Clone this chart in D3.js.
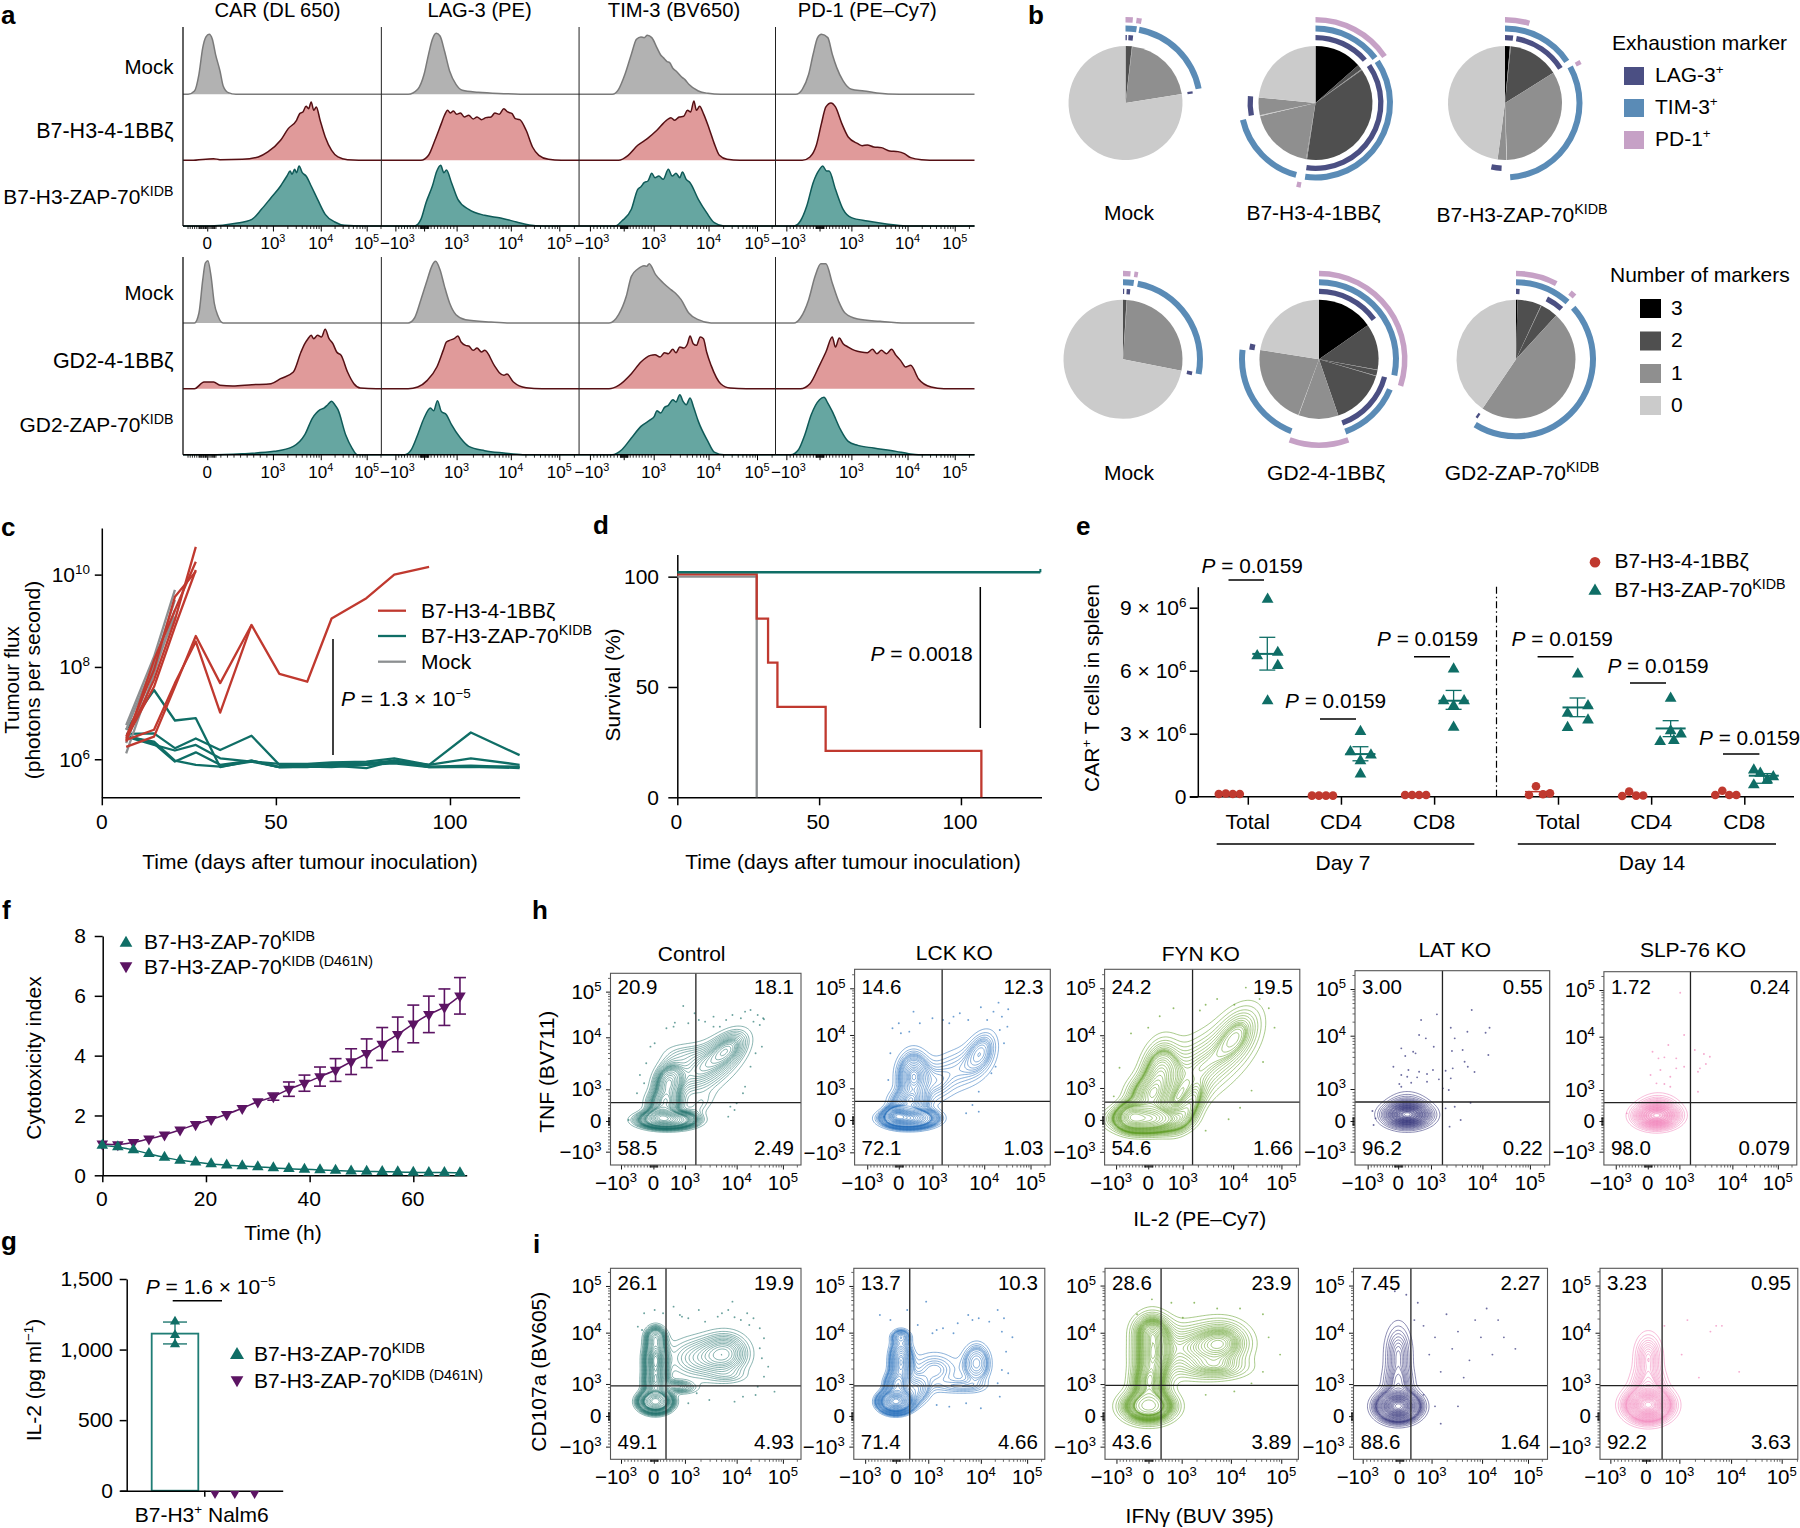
<!DOCTYPE html>
<html><head><meta charset="utf-8">
<script src="https://cdn.jsdelivr.net/npm/d3@7"></script>
<style>html,body{margin:0;padding:0;background:#fff}svg{display:block}text{font-family:"Liberation Sans",Arial,sans-serif;fill:#000}</style>
</head><body><svg id="c" width="1800" height="1528"></svg>
<script>
// ---------- DATA: panel a (channel, count) ----------
const markerTitles=["CAR (DL 650)","LAG-3 (PE)","TIM-3 (BV650)","PD-1 (PE–Cy7)"];
const rowLabelsB7=["Mock","B7-H3-4-1BBζ","B7-H3-ZAP-70^{KIDB}"];
const rowLabelsGD2=["Mock","GD2-4-1BBζ","GD2-ZAP-70^{KIDB}"];
const histMockB7=[
[[295,0],[305,10],[312,60],[318,140],[323,172],[328,180],[333,165],[338,120],[345,70],[350,25],[358,5],[370,0]],
[[640,0],[655,15],[665,60],[672,120],[678,165],[684,183],[690,175],[697,130],[705,70],[715,30],[725,12],[750,6],[790,2],[830,0]],
[[960,0],[970,15],[980,60],[990,120],[998,165],[1005,172],[1010,170],[1015,177],[1022,170],[1030,140],[1036,118],[1040,110],[1046,98],[1050,95],[1055,78],[1060,70],[1070,50],[1074,44],[1080,30],[1095,10],[1110,3],[1130,0]],
[[1248,0],[1258,15],[1268,60],[1275,120],[1282,170],[1288,180],[1298,170],[1305,120],[1312,80],[1322,40],[1335,15],[1355,10],[1375,4],[1410,0]]];
const hist41BBB7=[
[[300,0],[335,5],[345,2],[380,3],[405,10],[420,25],[440,60],[452,95],[465,120],[470,140],[475,145],[480,162],[484,155],[488,175],[492,150],[496,160],[502,120],[510,70],[520,30],[530,10],[545,2],[580,0]],
[[660,0],[672,15],[682,60],[692,110],[697,135],[702,150],[706,142],[711,148],[716,138],[722,142],[728,130],[735,135],[742,124],[748,130],[755,122],[762,128],[770,130],[776,142],[783,138],[790,155],[796,145],[803,140],[808,125],[815,122],[825,90],[835,40],[845,15],[860,3],[880,0]],
[[970,0],[985,15],[1000,45],[1015,65],[1030,90],[1045,120],[1052,128],[1058,120],[1065,130],[1072,132],[1078,150],[1083,145],[1088,178],[1092,150],[1097,162],[1103,140],[1112,95],[1120,50],[1128,15],[1140,3],[1160,0]],
[[1258,0],[1270,10],[1280,45],[1288,110],[1295,160],[1303,172],[1310,160],[1320,110],[1330,70],[1345,50],[1352,44],[1360,46],[1370,40],[1382,38],[1395,28],[1408,26],[1418,20],[1428,8],[1445,2],[1470,0]]];
const histZapB7=[
[[330,0],[370,8],[395,20],[410,50],[425,85],[440,120],[445,135],[450,150],[455,165],[458,155],[462,170],[465,160],[469,180],[474,160],[480,150],[488,120],[498,80],[510,35],[525,12],[540,2],[570,0]],
[[650,0],[660,20],[668,70],[678,120],[685,165],[691,182],[696,160],[700,168],[708,130],[718,80],[735,50],[760,32],[785,24],[810,12],[830,3],[850,0]],
[[965,0],[975,15],[990,50],[1000,110],[1005,118],[1010,130],[1016,135],[1022,158],[1027,145],[1033,150],[1040,140],[1048,170],[1054,150],[1060,158],[1066,145],[1070,162],[1076,140],[1082,130],[1095,80],[1108,40],[1120,10],[1135,0]],
[[1245,0],[1255,15],[1265,60],[1275,130],[1285,170],[1290,180],[1296,165],[1300,165],[1310,110],[1322,50],[1335,25],[1360,15],[1390,6],[1420,0]]];
const histMockGD2=[
[[305,0],[312,30],[318,130],[322,180],[326,187],[331,140],[336,60],[342,20],[350,0]],
[[640,0],[650,15],[660,70],[670,130],[677,170],[683,185],[690,160],[697,110],[705,60],[715,25],[730,10],[770,3],[800,0]],
[[955,0],[970,25],[982,80],[990,140],[1000,162],[1010,172],[1014,170],[1018,178],[1028,145],[1040,120],[1052,100],[1060,88],[1068,70],[1080,30],[1095,10],[1115,0]],
[[1245,0],[1255,15],[1268,70],[1278,140],[1287,178],[1295,178],[1305,120],[1315,65],[1325,30],[1345,12],[1380,5],[1420,0]]];
const hist41BBGD2=[
[[305,0],[320,20],[335,20],[345,10],[365,8],[395,12],[425,15],[440,30],[460,50],[472,110],[478,135],[483,150],[488,160],[492,150],[498,160],[504,155],[510,178],[516,150],[522,135],[528,110],[535,100],[545,50],[555,15],[565,2],[590,0]],
[[640,0],[655,5],[670,25],[685,65],[695,115],[700,140],[705,145],[712,150],[718,158],[723,140],[730,130],[735,128],[742,115],[748,122],[755,110],[760,115],[775,70],[783,48],[790,40],[795,44],[805,20],[825,3],[850,0]],
[[955,0],[970,10],[990,45],[1005,80],[1020,100],[1027,102],[1035,95],[1042,108],[1048,105],[1055,118],[1060,108],[1066,125],[1072,122],[1078,135],[1082,158],[1087,135],[1092,130],[1098,155],[1103,150],[1108,110],[1115,70],[1130,15],[1145,2],[1170,0]],
[[1255,0],[1270,15],[1285,70],[1295,110],[1305,155],[1310,125],[1316,152],[1322,135],[1330,125],[1340,115],[1350,110],[1360,108],[1368,118],[1375,105],[1382,115],[1390,105],[1398,118],[1405,100],[1412,85],[1420,65],[1428,70],[1440,30],[1460,5],[1480,0]]];
const histZapGD2=[
[[330,0],[380,3],[430,10],[460,25],[478,60],[490,110],[496,125],[502,135],[508,140],[514,150],[520,160],[525,150],[530,135],[542,60],[552,20],[560,0]],
[[635,0],[645,15],[655,60],[665,110],[675,140],[680,132],[686,162],[692,130],[700,120],[708,90],[722,50],[735,25],[760,12],[790,5],[820,0]],
[[960,0],[975,15],[990,50],[1005,85],[1020,105],[1026,115],[1030,132],[1036,125],[1042,142],[1048,148],[1055,165],[1060,158],[1066,180],[1071,160],[1076,150],[1082,170],[1088,140],[1095,100],[1110,40],[1120,8],[1135,0]],
[[1240,0],[1252,15],[1262,60],[1272,120],[1285,165],[1292,172],[1298,155],[1305,130],[1318,75],[1330,40],[1345,28],[1370,20],[1405,10],[1425,3],[1440,0]]];
const histPanelEdges=[287,598,908,1216,1528];
const histTicks=[[null,325,428,503,575],[620,665,716,801,877],[925,978,1025,1111,1187],[1233,1285,1335,1423,1497]];
const histTickLabels=[[null,"0","10^{3}","10^{4}","10^{5}"],["−10^{3}",null,"10^{3}","10^{4}","10^{5}"],["−10^{3}",null,"10^{3}","10^{4}","10^{5}"],["−10^{3}",null,"10^{3}","10^{4}","10^{5}"]];

// ---------- DATA: panel b ----------
const pieNames=["Mock","B7-H3-4-1BBζ","B7-H3-ZAP-70^{KIDB}","Mock","GD2-4-1BBζ","GD2-ZAP-70^{KIDB}"];
const pieDegrees=[[6.5,.5,74,279],[48.6,5,1,134,1,67,1,18,84.4],[5,1,52,120,.7,8.8,172.5],[3.5,.5,97,259],[55,45,.5,5.5,.5,54.5,39,.4,78.6,81],[1.5,23.5,.5,17,172,146]];
const pieLevels=[[2,1,1,0],[3,2,1,2,1,1,0,1,0],[3,1,2,1,0,1,0],[2,1,1,0],[3,2,1,2,1,2,1,0,1,0],[3,2,1,2,1,0]];
const lagArcs=[[[0,1.2],[2.5,6.5],[80,82]],[[0,49],[55,188],[259,276]],[[0,7],[10,58],[183,192]],[[0,1],[3,6],[100,103]],[[0,54],[105,160],[278,283]],[[0,3],[27,42],[213,215]]];
const timArcs=[[[0,8.5],[10.5,79]],[[0,53],[56,188],[195,257]],[[0,56],[61,176]],[[0,8],[11,101]],[[0,102],[113,160],[201,277]],[[0,42],[48,212]]];
const pdArcs=[[[0,5],[7.5,11]],[[0,56],[190,193]],[[0,17],[60,63]],[[0,5],[7.5,10]],[[0,108],[160,200]],[[0,28],[39,43]]];
const markerLegend=["LAG-3^{+}","TIM-3^{+}","PD-1^{+}"];
const markerNumbers=[3,2,1,0];

// ---------- DATA: panel c (log10 flux) ----------
const cTimes=[7,15,21,27,34,43,51,59,66,76,84,94,106,120];
const cRed=[[6.27,6.49,7.57,8.67,7.65,8.91,7.85,7.68,9.05,9.49,10,10.17],[6.42,6.64,7.65,8.55,7.01,8.91],[6.42,7.72,9.02,10.6],[6.49,7.94,9.52,10.07],[6.38,8.15,9.23,10.28],[6.45,7.57,8.87,10.1]];
const cGray=[[6.74,8.22,9.67],[6.13,7.86,9.23],[6.64,8.08,9.45],[6.35,8.0,9.09]];
const cTeal=[[6.64,7.5,6.84,6.89,5.83,5.97,5.83,5.83,5.88,5.88,5.95,5.84,5.86,5.83],
[6.55,6.56,6.24,6.45,6.2,6.51,5.88,5.88,5.91,5.91,5.97,5.88,6.58,6.09],
[6.49,6.31,6.19,6.31,6.02,5.95,5.9,5.9,5.93,5.95,6.02,5.88,6.02,5.88],
[6.52,6.34,5.95,6.15,5.88,5.97,5.83,5.84,5.86,5.81,5.97,5.83,5.84,5.81],
[6.49,6.38,5.97,5.88,5.84,5.95,5.83,5.84,5.83,5.88,5.91,5.83,5.83,5.84]];
const cTicksX=[0,50,100], cTicksY=[1e6,1e8,1e10], cTickLabelsY=["10^{6}","10^{8}","10^{10}"];
const seriesNames=["B7-H3-4-1BBζ","B7-H3-ZAP-70^{KIDB}","Mock"];

// ---------- DATA: panel d ----------
const dTeal=[[0,102],[128,102]];
const dRed=[[0,101],[28,81],[32,61],[35.3,41],[52.3,21],[107.2,0]];
const dGray=[[0,100],[28,0]];

// ---------- DATA: panel e (×10^6) ----------
const eCategories=["Total","CD4","CD8","Total","CD4","CD8"];
const eRed=[[.13,.15,.13,.13],[.05,.05,.05,.05],[.08,.08,.08,.08],[.08,.5,.12,.16],[.03,.24,.05,.06],[.08,.28,.08,.08]];
const eTeal=[[9.4,6.71,6.87,6.24,4.56],[3.1,2.14,1.98,1.71,1.08],[6.08,4.57,4.57,4.33,3.3],[5.84,4.33,3.97,3.65,3.29],[4.68,2.98,3.14,2.62,2.67],[1.27,1.11,.95,.79,.56]];
const eMean=[6.8,2.03,4.57,4.25,3.25,1.0];
const eHigh=[7.59,2.38,5.06,4.7,3.62,1.1];
const eLow=[6.03,1.71,4.16,3.81,2.86,.64];
const eTicksY=[0,3,6,9], eTickLabels=["0","3 × 10^{6}","6 × 10^{6}","9 × 10^{6}"];

// ---------- DATA: panel f ----------
const fTimes=[0,3,6,9,12,15,18,21,24,27,30,33,36,39,42,45,48,51,54,57,60,63,66,69];
const fPurple=[1.05,1.03,1.1,1.22,1.35,1.52,1.7,1.87,2.04,2.24,2.46,2.63,2.88,3.08,3.3,3.52,3.8,4.08,4.39,4.71,5.06,5.38,5.62,6.0];
const fPurpleErr=[.03,.03,.03,.04,.05,.05,.06,.06,.07,.08,.1,.12,.24,.27,.32,.38,.43,.48,.55,.58,.63,.61,.61,.61];
const fTeal=[1,.95,.85,.72,.6,.5,.44,.38,.34,.31,.28,.25,.22,.2,.18,.16,.14,.13,.12,.11,.1,.09,.09,.08];

// ---------- DATA: panel g ----------
const gTeal=[1198,1103,1037], gMean=1113, gLow=1040, gHigh=1195, gPurple=[0,0,0];

// ---------- DATA: panels h,i (gate channels) ----------
const flowTickLabels=["−10^{3}","0","10^{3}","10^{4}","10^{5}"];
const hNames=["Control","LCK KO","FYN KO","LAT KO","SLP-76 KO"];
const flowColors=["#1a6e68","#1f6ab8","#5a9a1e","#20206e","#f07cb6"];
const hQuad=[["20.9","18.1","58.5","2.49"],["14.6","12.3","72.1","1.03"],["24.2","19.5","54.6","1.66"],["3.00","0.55","96.2","0.22"],["1.72","0.24","98.0","0.079"]];
const iQuad=[["26.1","19.9","49.1","4.93"],["13.7","10.3","71.4","4.66"],["28.6","23.9","43.6","3.89"],["7.45","2.27","88.6","1.64"],["3.23","0.95","92.2","3.63"]];
const hXDom=[[215,668],[795,1260],[962,1132],[443,935],[1072,1560]];
const hYDom=[[735,160],[735,148],[1015,844],[735,152],[735,155]];
const iXDom=[[215,668],[793,1247],[962,1131],[1179,1348],[1394,1566]];
const iYDom=[[688,115],[688,115],[1271,1105],[1271,1105],[1271,1105]];
const hCross=[[418,548],[1003,544],[1038.6,960],[664,546],[1291,548]];
const iCross=[[347,468],[926,468],[1011,1206.7],[1229,1207],[1448,1207]];
const hTickX=[[240,317,392,515,625],[825,900,980,1103,1213],[972,1000,1030,1074,1116],[475,552,635,765,885],[1102,1183,1263,1397,1512]];
const hTickY=[[695,603,508,352,215],[697,600,505,345,205],[1003.5,975.6,947.7,901.6,860.6],[695,603,507,347,207],[695,603,510,350,210]];
const iTickX=[[240,318,392,515,625],[820,893,970,1095,1205],[972,1000,1029,1072,1116],[1187,1219,1247,1291,1331],[1403,1434,1463,1508,1552]];
const iTickY=[[650,558,462,308,168],[650,558,462,308,168],[1260,1233.5,1205.6,1161,1120],[1260,1233.5,1205.6,1161,1120],[1260,1233.5,1205.6,1161,1120]];
// populations: centre x, centre y, spread x, spread y, correlation, share
const hPops=[
[[350,600,36,14,0,.30],[335,585,18,14,0,.08],[345,550,24,22,0,.10],[352,490,20,36,-.2,.14],[430,450,52,50,-.45,.24],[495,385,30,35,-.45,.10],[385,400,35,22,0,.02],[425,560,24,28,-.6,.02]],
[[925,595,32,15,0,.38],[895,585,14,14,0,.1],[925,545,26,22,0,.1],[935,470,22,42,0,.2],[1040,450,48,45,-.35,.12],[1095,395,22,38,-.35,.07],[990,490,22,35,0,.03]],
[[1000,975,17,7,0,.28],[985,972,7,7,0,.06],[1000,955,11,10,0,.1],[1010,935,10,17,-.2,.16],[1045,930,24,21,-.5,.24],[1078,900,13,16,-.4,.1],[1035,965,9,12,-.6,.06]],
[[575,585,32,20,0,.8],[575,565,30,28,0,.2]],
[[1205,588,30,20,0,.8],[1210,565,30,26,0,.2]]];
const iPops=[
[[322,515,20,17,0,.3],[322,460,16,25,0,.1],[322,390,15,40,0,.22],[322,320,14,18,0,.04],[490,370,36,40,0,.15],[420,385,50,42,0,.15],[375,470,25,12,.2,.03],[500,440,32,14,0,.01]],
[[893,515,20,17,0,.40],[895,465,16,22,0,.1],[905,395,15,40,0,.18],[1085,400,20,36,0,.1],[985,420,38,36,0,.1],[1050,470,38,14,0,.03],[940,480,20,26,0,.07],[905,320,13,12,0,.02]],
[[1000,1225,13,8,0,.24],[1000,1205,9,9,0,.08],[1003,1180,10,18,0,.24],[1003,1158,10,8,0,.05],[1065,1170,15,12,0,.16],[1035,1175,20,14,0,.18],[1060,1192,18,6,0,.05]],
[[1218,1225,10,7,0,.72],[1218,1205,8,9,0,.1],[1218,1180,7,16,0,.18]],
[[1436,1224,11,8,0,.72],[1436,1205,9,9,0,.13],[1436,1182,7,12,0,.15]]];
const hDots=[
[[388,258],[368,308],[348,325],[320,370],[310,380],[300,430],[285,465],[278,520],[295,490],[258,600],[425,300],[460,290],[490,300],[525,295],[548,270],[565,285],[580,298],[555,305],[570,315],[575,380],[560,400],[548,440],[535,500],[515,550],[500,560],[495,590],[460,320],[400,310],[440,305],[510,570],[530,520],[578,295],[535,275],[505,285],[475,320],[415,280],[365,320]],
[[935,275],[900,310],[885,325],[905,340],[950,310],[980,295],[925,335],[1045,280],[1095,262],[1137,248],[1160,268],[1145,290],[1158,320],[1150,370],[1130,440],[1120,460],[1090,515],[1075,555],[1090,575],[1060,580],[1005,300],[1020,310],[880,400],[875,480],[865,590],[1030,290],[1065,300],[1110,300],[1125,275],[1140,330]],
[[1022,878],[1000,895],[985,900],[975,930],[970,955],[1050,875],[1075,875],[1097,870],[1105,878],[1110,895],[1100,925],[1090,950],[1080,965],[1070,975],[1050,985],[1045,880],[1010,885],[1060,870],[1085,860]],
[[650,283],[610,300],[738,270],[605,345],[622,355],[783,323],[685,323],[727,335],[695,355],[773,338],[715,390],[560,385],[590,395],[642,380],[688,393],[596,400],[570,408],[780,405],[540,440],[578,450],[720,425],[728,440],[745,456],[605,455],[640,450],[672,452],[625,462],[690,445],[560,465],[575,470],[600,472],[655,478],[685,475],[555,492],[585,488],[625,485],[665,505],[680,510],[560,500],[735,548],[672,565],[695,560],[710,600],[682,620],[487,573],[495,595],[490,615]],
[[1265,218],[1275,345],[1235,375],[1195,395],[1210,415],[1225,412],[1255,415],[1302,390],[1325,402],[1340,410],[1330,432],[1315,445],[1310,455],[1275,440],[1240,470],[1215,450],[1190,465],[1205,490],[1225,492],[1240,500],[1310,515],[1130,580],[1255,445]]];
const iDots=[
[[295,250],[320,240],[340,250],[280,290],[290,300],[365,230],[385,260],[400,265],[425,240],[470,260],[505,215],[495,240],[510,262],[540,250],[555,265],[570,295],[580,325],[575,385],[590,410],[580,440],[565,470],[605,485],[530,500],[510,515],[420,490],[400,520],[450,510],[380,255],[440,275],[480,250],[525,270],[545,285],[570,355],[560,495]],
[[855,255],[880,270],[965,215],[920,240],[990,300],[980,310],[1005,295],[1040,280],[1065,255],[1090,265],[1115,275],[1135,240],[1150,265],[1145,305],[1170,322],[1155,365],[1145,420],[1160,430],[1135,460],[1140,500],[1095,535],[1060,520],[1020,530],[990,525],[1075,270],[1030,310],[945,285]],
[[1003,1132],[990,1145],[1020,1135],[1040,1135],[1060,1140],[1080,1140],[1100,1145],[1105,1165],[1100,1195],[1090,1205],[1075,1212],[1050,1215],[1030,1148],[1115,1180]],
[[1232,1150],[1240,1155],[1250,1165],[1260,1145],[1270,1160],[1285,1150],[1295,1140],[1305,1150],[1265,1175],[1280,1185],[1300,1180],[1320,1175],[1245,1180],[1255,1195],[1275,1200],[1240,1215],[1250,1225],[1270,1225],[1255,1240],[1290,1165],[1310,1165],[1235,1135],[1225,1128],[1215,1125]],
[[1470,1150],[1490,1160],[1500,1155],[1465,1180],[1480,1200],[1450,1155],[1495,1155],[1515,1195]]];

// ---------- LAYOUT / STYLE ----------
const RED="#c0392f",TEAL="#0f6e66",GRAY="#8c8f91",PURPLE="#5c1463";
const hBoxes=[[610.5,801,973.3,1165],[854.6,1050.3,969.3,1165],[1104.6,1299.8,969.3,1165],[1355,1549.7,970.7,1165],[1603.9,1796.8,971.7,1165]];
const iBoxes=[[610.5,801,1268.3,1459.3],[853.8,1044.8,1268.3,1459.3],[1105,1298.4,1268.3,1459.3],[1353.5,1547.5,1268.3,1459.3],[1600,1797.8,1268.3,1459.3]];
const svg=d3.select("#c");
function rich(p,x,y,str,o={}){
  const size=o.size||21, t=p.append("text").attr("x",x).attr("y",y+size*.35).attr("font-size",size)
    .attr("text-anchor",o.anchor||"start").attr("font-weight",o.weight||null);
  if(o.rotate) t.attr("transform",`rotate(${o.rotate} ${x} ${y})`);
  if(o.fill) t.style("fill",o.fill);
  const re=/\^\{(.*?)\}|\*(.*?)\*|([^*^]+)/g; let m, up=0;
  while((m=re.exec(str))){
    const s=t.append("tspan");
    if(m[1]!==undefined){ s.text(m[1]).attr("font-size",size*(m[1].length>2?.68:.64)); s.attr("dy",-size*.38); up=size*.38; }
    else { s.text(m[2]!==undefined?m[2]:m[3]); if(m[2]!==undefined) s.attr("font-style","italic"); if(up){s.attr("dy",up); up=0;} }
  }
  return t;
}
function panelLetter(l,x,y){ rich(svg,x,y,l,{size:26,weight:"bold"}); }
function hline(p,x1,x2,y,w=1.5,c="#000"){ p.append("line").attr("x1",x1).attr("x2",x2).attr("y1",y).attr("y2",y).attr("stroke",c).attr("stroke-width",w); }
function vline(p,x,y1,y2,w=1.5,c="#000"){ p.append("line").attr("x1",x).attr("x2",x).attr("y1",y1).attr("y2",y2).attr("stroke",c).attr("stroke-width",w); }
function styleAxis(g,w=1.5){ g.selectAll("path,line").attr("stroke","#000").attr("stroke-width",w); g.selectAll("text").remove(); return g; }
function flowMinor(t){
  const [neg,zero,t3,t4,t5]=t, out=[], lg=Math.log10;
  for(let k=2;k<=9;k++){ out.push(t3+(t4-t3)*lg(k)); out.push(t4+(t5-t4)*lg(k)); if(k<6) out.push(t5+(t5-t4)*lg(k)); }
  for(let k=1;k<=9;k++){ out.push(zero+(t3-zero)*k/10); if(neg!==null) out.push(zero-(zero-neg)*k/10); else out.push(zero-(t3-zero)*k/30); }
  for(let k=1;k<=7;k++){ out.push(zero+(t3-zero)*k*.018); out.push(zero-(t3-zero)*k*.018); }
  return out;
}

// ---------- PANEL a ----------
panelLetter("a",1,14.5);
function drawHistBlock(rows,labels,top,bases,xAxisY,labelY){
  const x=d3.scaleLinear().domain([287,1528]).range([183,974.5]);
  const g=svg.append("g");
  const fills=["#b2b2b2","#e09a9a","#66a6a1"], strokes=["#7a7a7a","#561014","#0f5a58"];
  rows.forEach((row,r)=>{
    const y=d3.scaleLinear().domain([0,180]).range([bases[r],bases[r]-60]);
    const area=d3.area().x(d=>x(d[0])).y0(y(0)).y1(d=>y(d[1]));
    const line=d3.line().x(d=>x(d[0])).y(d=>y(d[1])).curve(d3.curveMonotoneX);
    row.forEach((h,c)=>{
      const pts=[[histPanelEdges[c],0],...h,[histPanelEdges[c+1],0]];
      g.append("path").attr("d",area.curve(d3.curveMonotoneX)(pts)).attr("fill",fills[r]);
      g.append("path").attr("d",line(pts)).attr("fill","none").attr("stroke",strokes[r]).attr("stroke-width",1.5);
    });
    rich(g,173.5,labelY[r],labels[r],{anchor:"end",size:r==0?20.5:(r==2?20.9:21.5)});
  });
  [287,598,908,1216].forEach((e,i)=>vline(g,x(e),top,xAxisY,i==0?1.4:1,"#222"));
  histTicks.forEach((t,c)=>{
    const major=t.filter((d,i)=>histTickLabels[c][i]!==null||i==1);
    const lo=histPanelEdges[c],hi=histPanelEdges[c+1];
    const minor=flowMinor(t).filter(d=>d>lo&&d<hi);
    const ax=svg.append("g").attr("transform",`translate(0,${xAxisY})`);
    ax.call(d3.axisBottom(x).tickValues(minor).tickSize(3).tickSizeOuter(0));
    styleAxis(ax,.8); ax.select("path").remove();
    const ax2=svg.append("g").attr("transform",`translate(0,${xAxisY})`);
    ax2.call(d3.axisBottom(x).tickValues(major).tickSize(5.5).tickSizeOuter(0));
    styleAxis(ax2,1); ax2.select("path").remove();
    t.forEach((v,i)=>{ if(histTickLabels[c][i]) rich(svg,x(v)+(i==0?2:0),xAxisY+17,histTickLabels[c][i],{size:17,anchor:"middle"}); });
  });
  hline(g,183,974.5,xAxisY,1.4);
}
[277.4,479.6,674,867.3].forEach((px,i)=>rich(svg,px,10,markerTitles[i],{anchor:"middle",size:20.2}));
drawHistBlock([histMockB7,hist41BBB7,histZapB7],rowLabelsB7,27,[94.3,160.3,226],226,[66.7,130,196.7]);
drawHistBlock([histMockGD2,hist41BBGD2,histZapGD2],rowLabelsGD2,257,[323,388.7,454.7],454.7,[292.7,360,425]);

// ---------- PANEL b ----------
panelLetter("b",1028,14.5);
const pieCentres=[[1125.5,103,57],[1315.5,103,57],[1505,103,57],[1123,359.3,59.5],[1319,359.3,59.5],[1516,359.3,59.5]];
const pieLabelPos=[[1129,213],[1313.5,213],[1522,215],[1129,473],[1326,473],[1522,473]];
const levelColor={3:"#000",2:"#4f4f4f",1:"#8f8f8f",0:"#cbcbcb"};
const ringColors={lag:"#4b4f83",tim:"#5a8bb6",pd:"#c6a1c6"};
const rad=d=>d*Math.PI/180;
pieDegrees.forEach((deg,i)=>{
  const [cx,cy,r]=pieCentres[i], g=svg.append("g").attr("transform",`translate(${cx},${cy})`);
  const arcs=d3.pie().sort(null).value(d=>d)(deg), arc=d3.arc().innerRadius(0).outerRadius(r);
  g.selectAll("path.s").data(arcs).join("path").attr("class","s").attr("d",arc).attr("fill",(d,k)=>levelColor[pieLevels[i][k]]);
  const ring=(list,r0,r1,c)=>list.forEach(a=>g.append("path").attr("fill",c).attr("d",d3.arc()({innerRadius:r+r0,outerRadius:r+r1,startAngle:rad(a[0]),endAngle:rad(a[1])})));
  ring(lagArcs[i],5.7,11,ringColors.lag); ring(timArcs[i],14.5,20.5,ringColors.tim); ring(pdArcs[i],23.5,29,ringColors.pd);
  rich(svg,pieLabelPos[i][0],pieLabelPos[i][1],pieNames[i],{anchor:"middle"});
});
rich(svg,1612,43,"Exhaustion marker");
[ringColors.lag,ringColors.tim,ringColors.pd].forEach((c,i)=>{
  const y=[67,99,131][i];
  svg.append("rect").attr("x",1624).attr("y",y).attr("width",20).attr("height",18).attr("fill",c);
  rich(svg,1655,y+8,markerLegend[i]);
});
rich(svg,1610,275,"Number of markers");
markerNumbers.forEach((n,i)=>{
  const y=[299,331.5,364,396][i];
  svg.append("rect").attr("x",1640).attr("y",y).attr("width",21).attr("height",19).attr("fill",levelColor[n]);
  rich(svg,1671,y+8.5,String(n));
});

// ---------- PANEL c ----------
panelLetter("c",1,527);
{
  const x=d3.scaleLinear().domain([0,120]).range([101.8,519.6]);
  const y=d3.scaleLog().domain([Math.pow(10,5.176),Math.pow(10,11.01)]).range([797.3,528]);
  const g=svg.append("g");
  const line=d3.line().x(d=>x(d[0])).y(d=>y(Math.pow(10,d[1])));
  const draw=(set,c)=>set.forEach(v=>g.append("path").attr("d",line(v.map((d,i)=>[cTimes[i],d]))).attr("fill","none").attr("stroke",c).attr("stroke-width",2.3).attr("stroke-linejoin","round"));
  draw(cTeal,TEAL); draw(cGray,GRAY); draw(cRed,RED);
  const ax=svg.append("g").attr("transform","translate(0,797.3)").call(d3.axisBottom(x).tickValues(cTicksX).tickSize(8).tickSizeOuter(0)); styleAxis(ax);
  const ay=svg.append("g").attr("transform","translate(101.8,0)").call(d3.axisLeft(y).tickValues(cTicksY).tickSize(7).tickSizeOuter(0)); styleAxis(ay);
  cTicksX.forEach(v=>rich(svg,x(v),821.7,String(v),{anchor:"middle"}));
  cTicksY.forEach((v,i)=>rich(svg,90,y(v),cTickLabelsY[i],{anchor:"end"}));
  rich(svg,310,861.7,"Time (days after tumour inoculation)",{anchor:"middle"});
  rich(svg,11.5,680,"Tumour flux",{anchor:"middle",rotate:-90,size:20.5});
  rich(svg,32.5,680,"(photons per second)",{anchor:"middle",rotate:-90});
  vline(svg,333,639,755,1.5);
  rich(svg,341,699,"*P* = 1.3 × 10^{−5}");
  [RED,TEAL,GRAY].forEach((c,i)=>{ const ly=[610.7,636,661.7][i]; hline(svg,378,406,ly,2.3,c); rich(svg,421,ly-.5,seriesNames[i]); });
}

// ---------- PANEL d ----------
panelLetter("d",593,525);
{
  const x=d3.scaleLinear().domain([0,128.4]).range([677.3,1041.5]);
  const y=d3.scaleLinear().domain([0,110]).range([797.3,554.6]);
  const step=d3.line().x(d=>x(d[0])).y(d=>y(d[1])).curve(d3.curveStepAfter);
  const ax=svg.append("g").attr("transform","translate(0,797.3)").call(d3.axisBottom(x).tickValues([0,50,100]).tickSize(8).tickSizeOuter(0)); styleAxis(ax);
  const ay=svg.append("g").attr("transform","translate(677.3,0)").call(d3.axisLeft(y).tickValues([0,50,100]).tickSize(9).tickSizeOuter(0)); styleAxis(ay);
  [[dGray,GRAY],[dRed,RED],[dTeal,TEAL]].forEach(([d,c])=>svg.append("path").attr("d",step(d)).attr("fill","none").attr("stroke",c).attr("stroke-width",2.3));
  vline(svg,x(128),y(103.5),y(102),2,TEAL);
  [0,50,100].forEach(v=>{ rich(svg,x(v)-1,821.7,String(v),{anchor:"middle"}); rich(svg,659,y(v),String(v),{anchor:"end"}); });
  rich(svg,853,861.7,"Time (days after tumour inoculation)",{anchor:"middle"});
  rich(svg,613,685,"Survival (%)",{anchor:"middle",rotate:-90});
  vline(svg,980.3,587,728,1.5);
  rich(svg,972.7,654,"*P* = 0.0018",{anchor:"end"});
}

// ---------- PANEL e ----------
panelLetter("e",1076,526);
{
  const xPos=[0,1,2,3.33,4.33,5.33];
  const x=d3.scaleLinear().domain([0,5.33]).range([1247.8,1744.3]);
  const y=d3.scaleLinear().domain([0,10]).range([796.7,586.7]);
  const ay=svg.append("g").attr("transform","translate(1197.8,0)").call(d3.axisLeft(y).tickValues(eTicksY).tickSize(8).tickSizeOuter(0)); styleAxis(ay);
  const ax=svg.append("g").attr("transform","translate(0,796.7)").call(d3.axisBottom(x).tickValues(xPos).tickSize(8).tickSizeOuter(0)); styleAxis(ax); ax.select("path").remove();
  hline(svg,1189.8,1794,796.7,1.5);
  eTicksY.forEach((v,i)=>rich(svg,1186.5,y(v),eTickLabels[i],{anchor:"end"}));
  svg.append("line").attr("x1",1496.5).attr("x2",1496.5).attr("y1",586.7).attr("y2",797).attr("stroke","#000").attr("stroke-width",1.2).attr("stroke-dasharray","7 3 1.5 3");
  const tri=d3.symbol().type(d3.symbolTriangle).size(60);
  const tealOff=[[19.8,9.4,30,30,19.8],[19.5,9.5,30,19.5,19.5],[19.5,9.5,30,19.5,19.5],[19.8,30,9.6,30,9.6],[19.5,29.8,19.5,9,22.7],[9.5,16,29,23,9.5]];
  const redOff=[[-29,-22,-15,-8],[-29,-22,-15,-8],[-29,-22,-15,-8],[-29,-22,-15,-8],[-29,-22,-15,-8],[-29,-22,-15,-8]];
  eCategories.forEach((c,i)=>{
    const cx=x(xPos[i]);
    rich(svg,cx,821.7,c,{anchor:"middle"});
    const mx=cx+19.5;
    if(i==3) { hline(svg,cx-33,cx-5,y(.24),1.5,RED); }
    eRed[i].forEach((v,k)=>svg.append("circle").attr("cx",cx+redOff[i][k]).attr("cy",y(v)).attr("r",4.3).attr("fill",RED));
    vline(svg,mx,y(eHigh[i]),y(eLow[i]),1.3,TEAL);
    hline(svg,mx-8,mx+8,y(eHigh[i]),1.3,TEAL); hline(svg,mx-8,mx+8,y(eLow[i]),1.3,TEAL);
    hline(svg,mx-15,mx+15,y(eMean[i]),2,TEAL);
    eTeal[i].forEach((v,k)=>svg.append("path").attr("d",tri()).attr("transform",`translate(${cx+tealOff[i][k]},${y(v)})`).attr("fill",TEAL));
  });
  [[1201.6,565.7,1228.5,1264,580],[1285,701,1320,1356,719],[1377,639,1414,1450,656.7],[1511.6,639,1537.6,1573.5,656.7],[1607.4,666,1630,1666,683],[1699,737.7,1723,1759.4,754]].forEach(a=>{
    rich(svg,a[0],a[1],"*P* = 0.0159",{size:20.8}); hline(svg,a[2],a[3],a[4],1.5);
  });
  hline(svg,1216.7,1474.3,844,1.5); hline(svg,1517.8,1776,844,1.5);
  rich(svg,1343,863,"Day 7",{anchor:"middle"}); rich(svg,1652,863,"Day 14",{anchor:"middle"});
  svg.append("circle").attr("cx",1595).attr("cy",562.3).attr("r",5.3).attr("fill",RED);
  rich(svg,1614.5,561,seriesNames[0]);
  svg.append("path").attr("d",d3.symbol().type(d3.symbolTriangle).size(75)()).attr("transform","translate(1595,591)").attr("fill",TEAL);
  rich(svg,1614.5,590,seriesNames[1]);
  rich(svg,1092,688,"CAR^{+} T cells in spleen",{anchor:"middle",rotate:-90});
}

// ---------- PANEL f ----------
panelLetter("f",2,910);
const triUp=d3.symbol().type(d3.symbolTriangle).size(58);
const triDn=d3.symbol().type(d3.symbolTriangle).size(58);
{
  const x=d3.scaleLinear().domain([0,70.3]).range([102.3,466.7]);
  const y=d3.scaleLinear().domain([0,8]).range([1175.3,936]);
  const ax=svg.append("g").attr("transform","translate(0,1175.3)").call(d3.axisBottom(x).tickValues([0,20,40,60]).tickSize(7).tickSizeOuter(0)); styleAxis(ax);
  const ay=svg.append("g").attr("transform","translate(102.7,0)").call(d3.axisLeft(y).tickValues([0,2,4,6,8]).tickSize(8).tickSizeOuter(0)); styleAxis(ay);
  const ln=d3.line().x((d,i)=>x(fTimes[i])).y(d=>y(d)).curve(d3.curveMonotoneX);
  fPurple.forEach((v,i)=>{ if(fPurpleErr[i]>.1){ const cx=x(fTimes[i]); vline(svg,cx,y(v+fPurpleErr[i]),y(v-fPurpleErr[i]),1.6,PURPLE); hline(svg,cx-6,cx+6,y(v+fPurpleErr[i]),1.6,PURPLE); hline(svg,cx-6,cx+6,y(v-fPurpleErr[i]),1.6,PURPLE);} });
  svg.append("path").attr("d",ln(fPurple)).attr("fill","none").attr("stroke",PURPLE).attr("stroke-width",1.5);
  svg.append("path").attr("d",ln(fTeal)).attr("fill","none").attr("stroke",TEAL).attr("stroke-width",1.5);
  fPurple.forEach((v,i)=>svg.append("path").attr("d",triDn()).attr("transform",`translate(${x(fTimes[i])},${y(v)}) rotate(180)`).attr("fill",PURPLE));
  fTeal.forEach((v,i)=>svg.append("path").attr("d",triUp()).attr("transform",`translate(${x(fTimes[i])},${y(v)})`).attr("fill",TEAL));
  [0,20,40,60].forEach(v=>rich(svg,x(v)-.5,1199,String(v),{anchor:"middle"}));
  [0,2,4,6,8].forEach(v=>rich(svg,86,y(v),String(v),{anchor:"end"}));
  rich(svg,283,1233,"Time (h)",{anchor:"middle"});
  rich(svg,34,1058,"Cytotoxicity index",{anchor:"middle",rotate:-90});
  svg.append("path").attr("d",d3.symbol().type(d3.symbolTriangle).size(70)()).attr("transform","translate(126,943)").attr("fill",TEAL);
  rich(svg,144,942,"B7-H3-ZAP-70^{KIDB}");
  svg.append("path").attr("d",d3.symbol().type(d3.symbolTriangle).size(70)()).attr("transform","translate(126,966) rotate(180)").attr("fill",PURPLE);
  rich(svg,144,967,"B7-H3-ZAP-70^{KIDB (D461N)}");
}

// ---------- PANEL g ----------
panelLetter("g",1,1241);
{
  const y=d3.scaleLinear().domain([0,1500]).range([1490.7,1279]);
  const x=d3.scaleLinear().domain([0,1]).range([120,282.7]);
  svg.append("rect").attr("x",151.7).attr("width",46.6).attr("y",y(gMean)).attr("height",y(0)-y(gMean)).attr("fill","#fff").attr("stroke","#1f7d75").attr("stroke-width",1.8);
  const ay=svg.append("g").attr("transform","translate(126.7,0)").call(d3.axisLeft(y).tickValues([0,500,1000,1500]).tickSize(7).tickSizeOuter(0)); styleAxis(ay);
  const ax=svg.append("g").attr("transform","translate(0,1490.7)").call(d3.axisBottom(x).tickValues([.518]).tickSize(6).tickSizeOuter(0)); styleAxis(ax);
  [0,500,1000,1500].forEach((v,i)=>rich(svg,113,y(v),["0","500","1,000","1,500"][i],{anchor:"end"}));
  vline(svg,175,y(gHigh),y(gLow),1.3,TEAL); hline(svg,163,187,y(gHigh),1.3,TEAL); hline(svg,163,187,y(gLow),1.3,TEAL);
  gTeal.forEach(v=>svg.append("path").attr("d",d3.symbol().type(d3.symbolTriangle).size(45)()).attr("transform",`translate(175,${y(v)})`).attr("fill",TEAL));
  gPurple.forEach((v,i)=>svg.append("path").attr("d",d3.symbol().type(d3.symbolTriangle).size(38)()).attr("transform",`translate(${215+i*19.8},${y(v)+3}) rotate(180)`).attr("fill",PURPLE));
  rich(svg,145.7,1286.7,"*P* = 1.6 × 10^{−5}");
  hline(svg,172.7,222,1300.7,1.5);
  svg.append("path").attr("d",d3.symbol().type(d3.symbolTriangle).size(85)()).attr("transform","translate(237,1355)").attr("fill",TEAL);
  rich(svg,254,1354,"B7-H3-ZAP-70^{KIDB}");
  svg.append("path").attr("d",d3.symbol().type(d3.symbolTriangle).size(70)()).attr("transform","translate(237,1380) rotate(180)").attr("fill",PURPLE);
  rich(svg,254,1381,"B7-H3-ZAP-70^{KIDB (D461N)}");
  rich(svg,201.7,1515,"B7-H3^{+} Nalm6",{anchor:"middle"});
  rich(svg,34,1380,"IL-2 (pg ml^{−1})",{anchor:"middle",rotate:-90});
}

// ---------- PANELS h, i ----------
panelLetter("h",532,910); panelLetter("i",533,1244);
function flowPlot(box,xd,yd,pops,dots,cross,tx,ty,color,quad,qTop,qBot,xLabY){
  const [l,r,t,b]=box, g=svg.append("g");
  const xs=d3.scaleLinear().domain(xd).range([l,r]), ys=d3.scaleLinear().domain(yd).range([b,t]);
  const n=140, vals=new Float64Array(n*n);
  for(let j=0;j<n;j++)for(let i=0;i<n;i++){
    const X=xd[0]+(i+.5)/n*(xd[1]-xd[0]), Y=yd[0]+(j+.5)/n*(yd[1]-yd[0]); let s=0;
    pops.forEach(([cx,cy,sx,sy,rho,w])=>{ const a=(X-cx)/sx,c=(Y-cy)/sy,q=1-rho*rho;
      s+=w/(sx*sy*Math.sqrt(q))*Math.exp(-(a*a-2*rho*a*c+c*c)/(2*q)); });
    vals[j*n+i]=s;
  }
  const sorted=Array.from(vals).sort((a,b)=>b-a), total=d3.sum(sorted); const levels=[];
  let cum=0, next=.03;
  for(const v of sorted){ cum+=v; while(cum/total>=next&&next<.985){ levels.push(v); next+=.03; } }
  const tf=d3.geoTransform({point(a,c){ this.stream.point(xs(xd[0]+a/n*(xd[1]-xd[0])),ys(yd[0]+c/n*(yd[1]-yd[0]))); }});
  const path=d3.geoPath(tf);
  const cs=d3.contours().size([n,n]).thresholds(levels.reverse())(Array.from(vals));
  cs.forEach(c=>g.append("path").attr("d",path(c)).attr("fill","none").attr("stroke",color).attr("stroke-width",.7).attr("stroke-opacity",.75));
  dots.forEach(d=>g.append("circle").attr("cx",xs(d[0])).attr("cy",ys(d[1])).attr("r",.95).attr("fill",color).attr("opacity",.65));
  // ticks
  const xMinor=flowMinor(tx).filter(d=>xs(d)>l&&xs(d)<r), yMinor=flowMinor([ty[0],ty[1],ty[2],ty[3],ty[4]]).filter(d=>ys(d)>t&&ys(d)<b);
  const ax=g.append("g").attr("transform",`translate(0,${b})`).call(d3.axisBottom(xs).tickValues(xMinor).tickSize(2.5).tickSizeOuter(0)); styleAxis(ax,.6); ax.select("path").remove();
  const ay=g.append("g").attr("transform",`translate(${l},0)`).call(d3.axisLeft(ys).tickValues(yMinor).tickSize(2.5).tickSizeOuter(0)); styleAxis(ay,.6); ay.select("path").remove();
  const ax2=g.append("g").attr("transform",`translate(0,${b})`).call(d3.axisBottom(xs).tickValues(tx).tickSize(4.5).tickSizeOuter(0)); styleAxis(ax2,.9); ax2.select("path").remove();
  const ay2=g.append("g").attr("transform",`translate(${l},0)`).call(d3.axisLeft(ys).tickValues(ty).tickSize(4.5).tickSizeOuter(0)); styleAxis(ay2,.9); ay2.select("path").remove();
  vline(g,xs(cross[0]),t,b,1.3,"#222"); hline(g,l,r,ys(cross[1]),1.3,"#222");
  g.append("rect").attr("x",l).attr("y",t).attr("width",r-l).attr("height",b-t).attr("fill","none").attr("stroke","#555").attr("stroke-width",1.1);
  tx.forEach((v,i)=>rich(g,xs(v)+(i==0?-5:0),xLabY,flowTickLabels[i],{anchor:"middle",size:20.5}));
  ty.forEach((v,i)=>rich(g,l-9,ys(v),flowTickLabels[i],{anchor:"end",size:20.5}));
  rich(g,l+7,qTop,quad[0],{size:20.5}); rich(g,r-7,qTop,quad[1],{size:20.5,anchor:"end"});
  rich(g,l+7,qBot,quad[2],{size:20.5}); rich(g,r-7,qBot,quad[3],{size:20.5,anchor:"end"});
}
const hTitlePos=[[691.7,954],[954.3,952.7],[1200.8,954],[1454.8,950],[1693,950]];
hNames.forEach((nm,i)=>{
  rich(svg,hTitlePos[i][0],hTitlePos[i][1],nm,{anchor:"middle"});
  flowPlot(hBoxes[i],hXDom[i],hYDom[i],hPops[i],hDots[i],hCross[i],hTickX[i],hTickY[i],flowColors[i],hQuad[i],987,1148,1183);
  flowPlot(iBoxes[i],iXDom[i],iYDom[i],iPops[i],iDots[i],iCross[i],iTickX[i],iTickY[i],flowColors[i],iQuad[i],1283,1442,1476.7);
});
rich(svg,1199.7,1219,"IL-2 (PE–Cy7)",{anchor:"middle"});
rich(svg,1199.7,1515.4,"IFNγ (BUV 395)",{anchor:"middle"});
rich(svg,547,1071.7,"TNF (BV711)",{anchor:"middle",rotate:-90});
rich(svg,539,1371.7,"CD107a (BV605)",{anchor:"middle",rotate:-90});
</script></body></html>
